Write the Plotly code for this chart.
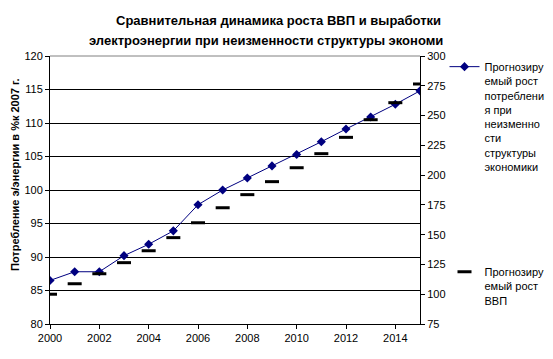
import plotly.graph_objects as go

years = list(range(2000, 2016))
consumption = [86.5, 87.8, 87.8, 90.2, 91.9, 93.9, 97.8, 100.0, 101.8, 103.6,
               105.3, 107.2, 109.1, 110.9, 112.8, 114.8]
gdp = [100.0, 108.8, 117.2, 126.5, 136.5, 147.5, 160.0, 172.6, 183.6, 194.5,
       206.2, 218.0, 231.7, 246.5, 260.8, 276.5]

name_cons = "Прогнозиру<br>емый рост<br>потреблени<br>я при<br>неизменно<br>сти<br>структуры<br>экономики"
name_gdp = "Прогнозиру<br>емый рост<br>ВВП"
title_line1 = "Сравнительная динамика роста ВВП и выработки"
title_line2 = "электроэнергии при неизменности структуры экономи"
y_title = "Потребление э/энергии в %к 2007 г."

x_ticks = list(range(2000, 2015, 2))

FONT = "Liberation Sans, Arial, sans-serif"

# page body has an 8px margin; shrink figure so it fits the 553x359 window
OFF = 8
W, H = 553 - OFF, 359 - OFF
L, R, T, B = 50 - OFF, 420 - OFF, 56 - OFF, 324 - OFF  # plot area in figure px
PW, PH = R - L, B - T


def px(xs):
    return (xs - OFF - L) / PW


def py(ys):
    return (B - (ys - OFF)) / PH


fig = go.Figure()
fig.add_trace(go.Scatter(
    x=years, y=consumption, name=name_cons, mode="lines+markers",
    line=dict(color="#000080", width=1),
    marker=dict(symbol="diamond", size=7, color="#000080"),
    legend="legend",
))
fig.add_trace(go.Scatter(
    x=years, y=gdp, name=name_gdp, mode="markers", yaxis="y2",
    marker=dict(symbol="line-ew", size=10, color="black",
                line=dict(color="black", width=3)),
    legend="legend2",
))

fig.update_layout(
    width=W, height=H,
    margin=dict(l=L, r=W - R, t=T, b=H - B, autoexpand=False),
    paper_bgcolor="white", plot_bgcolor="white",
    font=dict(family=FONT, size=11, color="black"),
    xaxis=dict(range=[2000, 2015], tickvals=x_ticks, ticks="outside", ticklen=4,
               tickcolor="black", showline=True, linecolor="black", linewidth=1,
               showgrid=False, zeroline=False, tickfont=dict(size=11), automargin=False),
    yaxis=dict(range=[80, 120], dtick=5, ticks="outside", ticklen=4,
               tickcolor="black", showline=True, linecolor="black", linewidth=1,
               showgrid=True, gridcolor="black", gridwidth=1, zeroline=False,
               tickfont=dict(size=11), automargin=False),
    yaxis2=dict(range=[75, 300], dtick=25, overlaying="y", side="right",
                ticks="outside", ticklen=4, tickcolor="black", showline=True,
                linecolor="black", linewidth=1, showgrid=False, zeroline=False,
                tickfont=dict(size=11), automargin=False),
    legend=dict(x=px(485 - 40.5), y=py(66 - 13), xanchor="left", yanchor="top",
                valign="top", font=dict(size=11), bgcolor="rgba(0,0,0,0)", itemwidth=30),
    legend2=dict(x=px(485 - 40.5), y=py(273 - 15), xanchor="left", yanchor="top",
                 valign="top", font=dict(size=11), bgcolor="rgba(0,0,0,0)", itemwidth=30),
    showlegend=True,
    shapes=[dict(type="line", xref="paper", yref="paper", x0=0, x1=1, y0=1, y1=1,
                 line=dict(color="#808080", width=1))],
    annotations=[
        dict(text="<b>" + title_line1 + "</b>", xref="paper", yref="paper",
             x=px(278), y=py(21), xanchor="center", yanchor="middle",
             showarrow=False, font=dict(size=13)),
        dict(text="<b>" + title_line2 + "</b>", xref="paper", yref="paper",
             x=px(87), y=py(40), xanchor="left", yanchor="middle",
             showarrow=False, font=dict(size=13)),
        dict(text="<b>" + y_title + "</b>", xref="paper", yref="paper",
             x=px(15), y=py(175), xanchor="center", yanchor="middle",
             textangle=-90, showarrow=False, font=dict(size=11)),
    ],
)

fig.write_html("out.html")
